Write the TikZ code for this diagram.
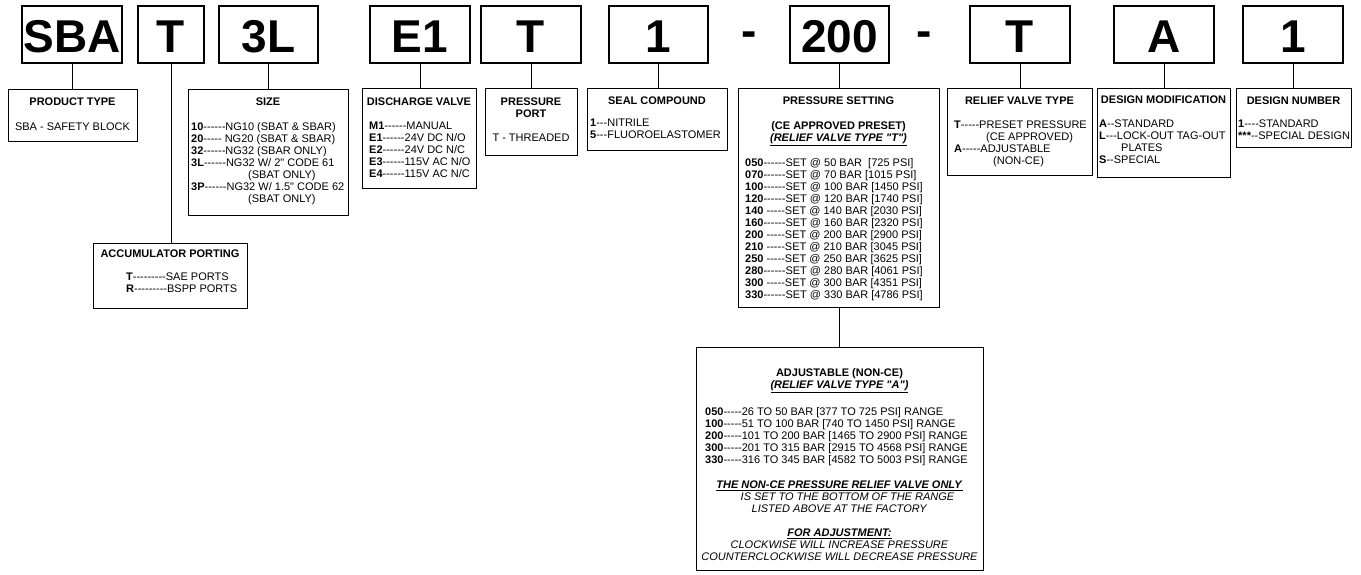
\documentclass[tikz,border=0pt]{standalone}
\usepackage{fontspec}
\setmainfont{Liberation Sans}[Ligatures=TeXOff]
\def\codefont{\fontsize{46}{46}\selectfont\bfseries}
\def\panelfont{\fontsize{11}{12}\selectfont}

\begin{document}
\begin{tikzpicture}[x=1pt, y=-1pt,
    codebox/.style={draw, line width=1.4pt, inner sep=0pt, minimum height=57pt,
        text height=36pt, text depth=0pt, font=\codefont},
    hyph/.style={anchor=base, inner sep=0pt, font=\codefont},
    panel/.style={draw, line width=1.4pt, anchor=north west, inner sep=0pt},
    paneltitle/.style={anchor=north, inner sep=0pt, align=center, font=\panelfont\bfseries},
    paneltext/.style={anchor=north west, inner sep=0pt, align=left, font=\panelfont},
    link/.style={line width=1pt}]
    \useasboundingbox (0,0) rectangle (1361,574);

    \node[codebox, minimum width=100pt] (sba) at (72,34.5) {SBA};
    \node[codebox, minimum width=66pt] (acc) at (171,34.5) {T};
    \node[codebox, minimum width=99pt] (size) at (268.5,34.5) {3L};
    \node[codebox, minimum width=100pt] (valve) at (420,34.5) {E1};
    \node[codebox, minimum width=100pt] (port) at (531,34.5) {T};
    \node[codebox, minimum width=99pt] (seal) at (658.5,34.5) {1};
    \node[hyph] (dashA) at (749.5,46.5) {-};
    \node[codebox, minimum width=99pt] (press) at (839.5,34.5) {200};
    \node[hyph] (dashB) at (924,46.5) {-};
    \node[codebox, minimum width=100pt] (relief) at (1020,34.5) {T};
    \node[codebox, minimum width=100pt] (mod) at (1164,34.5) {A};
    \node[codebox, minimum width=100pt] (num) at (1293,34.5) {1};

    \node[panel, minimum width=129pt, minimum height=52pt] (sbaPanel) at (8,89) {};
    \node[paneltitle] (sbaTitle) at (72.5,98) {PRODUCT TYPE};
    \node[paneltext, anchor=north] (sbaText) at (72.5,123) {SBA - SAFETY BLOCK};

    \node[panel, minimum width=154pt, minimum height=65pt] (accPanel) at (93,243) {};
    \node[paneltitle] (accTitle) at (170,249.5) {ACCUMULATOR PORTING};
    \node[paneltext] (accText) at (126,273) {\textbf{T}---------SAE PORTS\\
        \textbf{R}---------BSPP PORTS};

    \node[panel, minimum width=160pt, minimum height=126pt] (sizePanel) at (188,89) {};
    \node[paneltitle] (sizeTitle) at (268,98) {SIZE};
    \node[paneltext] (sizeText) at (191,122) {\textbf{10}------NG10 (SBAT \& SBAR)\\
        \textbf{20}----- NG20 (SBAT \& SBAR)\\
        \textbf{32}------NG32 (SBAR ONLY)\\
        \textbf{3L}------NG32 W/ 2" CODE 61\\
        \hspace*{57pt}(SBAT ONLY)\\
        \textbf{3P}------NG32 W/ 1.5" CODE 62\\
        \hspace*{57pt}(SBAT ONLY)};

    \node[panel, minimum width=114pt, minimum height=100pt] (valvePanel) at (362,88) {};
    \node[paneltitle] (valveTitle) at (419,97.5) {DISCHARGE VALVE};
    \node[paneltext] (valveText) at (369,122) {\textbf{M1}------MANUAL\\
        \textbf{E1}------24V DC N/O\\
        \textbf{E2}------24V DC N/C\\
        \textbf{E3}------115V AC N/O\\
        \textbf{E4}------115V AC N/C};

    \node[panel, minimum width=92pt, minimum height=67pt] (portPanel) at (485,88) {};
    \node[paneltitle] (portTitle) at (531,97.5) {PRESSURE\\ PORT};
    \node[paneltext, anchor=north] (portText) at (531,134) {T - THREADED};

    \node[panel, minimum width=140pt, minimum height=62pt] (sealPanel) at (587,88) {};
    \node[paneltitle] (sealTitle) at (657,97) {SEAL COMPOUND};
    \node[paneltext] (sealText) at (590,119) {\textbf{1}---NITRILE\\
        \textbf{5}---FLUOROELASTOMER};

    \node[panel, minimum width=201pt, minimum height=219pt] (pressPanel) at (738,88) {};
    \node[paneltitle] (pressTitle) at (838.5,96.5) {PRESSURE SETTING};
    \node[paneltitle] (pressSub) at (838.5,121) {(CE APPROVED PRESET)\\
        \underline{\textit{(RELIEF VALVE TYPE "T")}}};
    \node[paneltext] (pressText) at (745,158) {\textbf{050}------SET @ 50 BAR\ \ [725 PSI]\\
        \textbf{070}------SET @ 70 BAR [1015 PSI]\\
        \textbf{100}------SET @ 100 BAR [1450 PSI]\\
        \textbf{120}------SET @ 120 BAR [1740 PSI]\\
        \textbf{140} -----SET @ 140 BAR [2030 PSI]\\
        \textbf{160}------SET @ 160 BAR [2320 PSI]\\
        \textbf{200} -----SET @ 200 BAR [2900 PSI]\\
        \textbf{210} -----SET @ 210 BAR [3045 PSI]\\
        \textbf{250} -----SET @ 250 BAR [3625 PSI]\\
        \textbf{280}------SET @ 280 BAR [4061 PSI]\\
        \textbf{300} -----SET @ 300 BAR [4351 PSI]\\
        \textbf{330}------SET @ 330 BAR [4786 PSI]};

    \node[panel, minimum width=287pt, minimum height=223pt] (adjPanel) at (696,347) {};
    \node[paneltitle] (adjTitle) at (839.5,368.5) {ADJUSTABLE (NON-CE)\\
        \underline{\textit{(RELIEF VALVE TYPE "A")}}};
    \node[paneltext] (adjText) at (705,407) {\textbf{050}-----26 TO 50 BAR [377 TO 725 PSI] RANGE\\
        \textbf{100}-----51 TO 100 BAR [740 TO 1450 PSI] RANGE\\
        \textbf{200}-----101 TO 200 BAR [1465 TO 2900 PSI] RANGE\\
        \textbf{300}-----201 TO 315 BAR [2915 TO 4568 PSI] RANGE\\
        \textbf{330}-----316 TO 345 BAR [4582 TO 5003 PSI] RANGE};
    \node[paneltext, anchor=north, align=center] (adjNote) at (839.5,481)
        {\underline{\textbf{\textit{THE NON-CE PRESSURE RELIEF VALVE ONLY}}}\\
        \hspace*{16pt}\textit{IS SET TO THE BOTTOM OF THE RANGE}\\
        \textit{LISTED ABOVE AT THE FACTORY}\hspace*{19pt}\\[12pt]
        \underline{\textbf{\textit{FOR ADJUSTMENT:}}}\\
        \textit{CLOCKWISE WILL INCREASE PRESSURE}\\
        \textit{COUNTERCLOCKWISE WILL DECREASE PRESSURE}};

    \node[panel, minimum width=145pt, minimum height=87pt] (reliefPanel) at (947,88) {};
    \node[paneltitle] (reliefTitle) at (1019.5,97) {RELIEF VALVE TYPE};
    \node[paneltext] (reliefText) at (954,121) {\textbf{T}-----PRESET PRESSURE\\
        \hspace*{32pt}(CE APPROVED)\\
        \textbf{A}-----ADJUSTABLE\\
        \hspace*{39pt}(NON-CE)};

    \node[panel, minimum width=133pt, minimum height=89pt] (modPanel) at (1097,88) {};
    \node[paneltitle] (modTitle) at (1163.5,95.5) {DESIGN MODIFICATION};
    \node[paneltext] (modText) at (1099,120) {\textbf{A}--STANDARD\\
        \textbf{L}---LOCK-OUT TAG-OUT\\
        \hspace*{22pt}PLATES\\
        \textbf{S}--SPECIAL};

    \node[panel, minimum width=115pt, minimum height=59pt] (numPanel) at (1236,88) {};
    \node[paneltitle] (numTitle) at (1293.5,97) {DESIGN NUMBER};
    \node[paneltext] (numText) at (1238,120) {\textbf{1}----STANDARD\\
        \textbf{***}--SPECIAL DESIGN};

    \draw[link] (sba.south) -- (sba.south |- sbaPanel.north);
    \draw[link] (acc.south) -- (acc.south |- accPanel.north);
    \draw[link] (size.south) -- (size.south |- sizePanel.north);
    \draw[link] (valve.south) -- (valve.south |- valvePanel.north);
    \draw[link] (port.south) -- (port.south |- portPanel.north);
    \draw[link] (seal.south) -- (seal.south |- sealPanel.north);
    \draw[link] (press.south) -- (press.south |- pressPanel.north);
    \draw[link] (press.south |- pressPanel.south) -- (press.south |- adjPanel.north);
    \draw[link] (relief.south) -- (relief.south |- reliefPanel.north);
    \draw[link] (mod.south) -- (mod.south |- modPanel.north);
    \draw[link] (num.south) -- (num.south |- numPanel.north);
\end{tikzpicture}
\end{document}
